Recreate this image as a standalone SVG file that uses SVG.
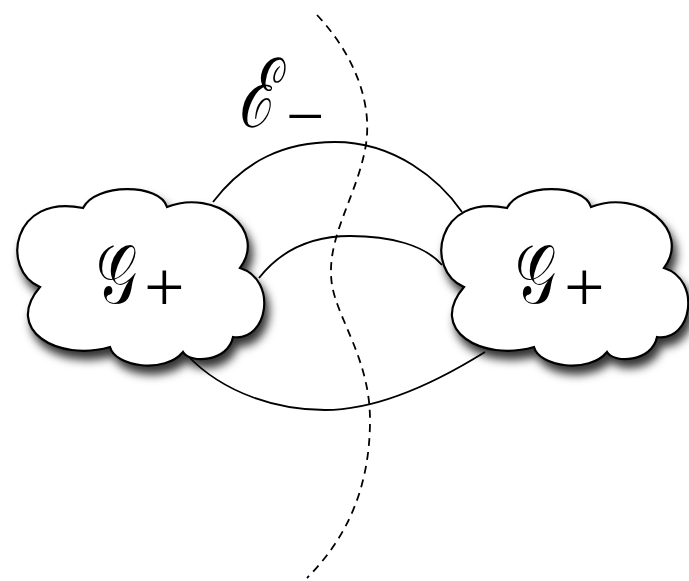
<svg xmlns="http://www.w3.org/2000/svg" width="689" height="581" viewBox="0 0 689 581">
<style>
.edge{fill:none;stroke:#000;stroke-width:1.8}
.cut{fill:none;stroke:#000;stroke-width:1.8;stroke-dasharray:8 6}
.cloud{fill:#fff;stroke:#000;stroke-width:2.2;filter:url(#sh)}
.scr{font-family:"DejaVu Serif","Liberation Serif",serif;fill:#000}
.op{font-family:"Liberation Serif",serif;fill:#000}
</style>
<defs>
<filter id="sh" x="-20%" y="-20%" width="150%" height="160%">
<feDropShadow dx="4" dy="8" stdDeviation="5" flood-color="#000" flood-opacity="0.8"/>
</filter>
<path id="cloudShape" d="M40,287 C0,270 12,193 83,208 C95,183 160,183 167,207 C215,188 268,230 240,268 C278,280 268,342 233,337 C228,362 190,364 183,352 C165,374 115,367 110,347 C58,362 3,330 40,287 Z"/>
</defs>
<rect width="689" height="581" fill="#fff"/>
<g id="connectors">
<path class="edge" d="M213,202 C245,160 285,142 335,142 C395,142 440,180 462,212"/>
<path class="edge" d="M259,278 C285,245 320,236 350,236 C390,236 425,245 442,265"/>
<path class="edge" d="M187,355 C225,395 280,410 325,410 C380,410 440,380 485,352"/>
<path class="cut" d="M317,15 C350,50 375,100 365,150 C355,200 325,240 332,285 C338,320 370,360 370,420 C370,490 345,540 307,578"/>
</g>
<g id="label-E">
<text class="scr" transform="translate(238,127) scale(0.65,1)" font-size="96" font-style="italic">ℰ</text>
<text class="op" x="286" y="139" font-size="68">−</text>
</g>
<g id="node-left">
<use href="#cloudShape" class="cloud"/>
<text class="scr" transform="translate(96,303) scale(0.7,1)" font-size="82">𝒢</text>
<text class="op" x="144" y="311" font-size="72">+</text>
</g>
<g id="node-right">
<use href="#cloudShape" class="cloud" transform="translate(424,0)"/>
<text class="scr" transform="translate(515,303) scale(0.7,1)" font-size="82">𝒢</text>
<text class="op" x="564" y="311" font-size="72">+</text>
</g>
</svg>
